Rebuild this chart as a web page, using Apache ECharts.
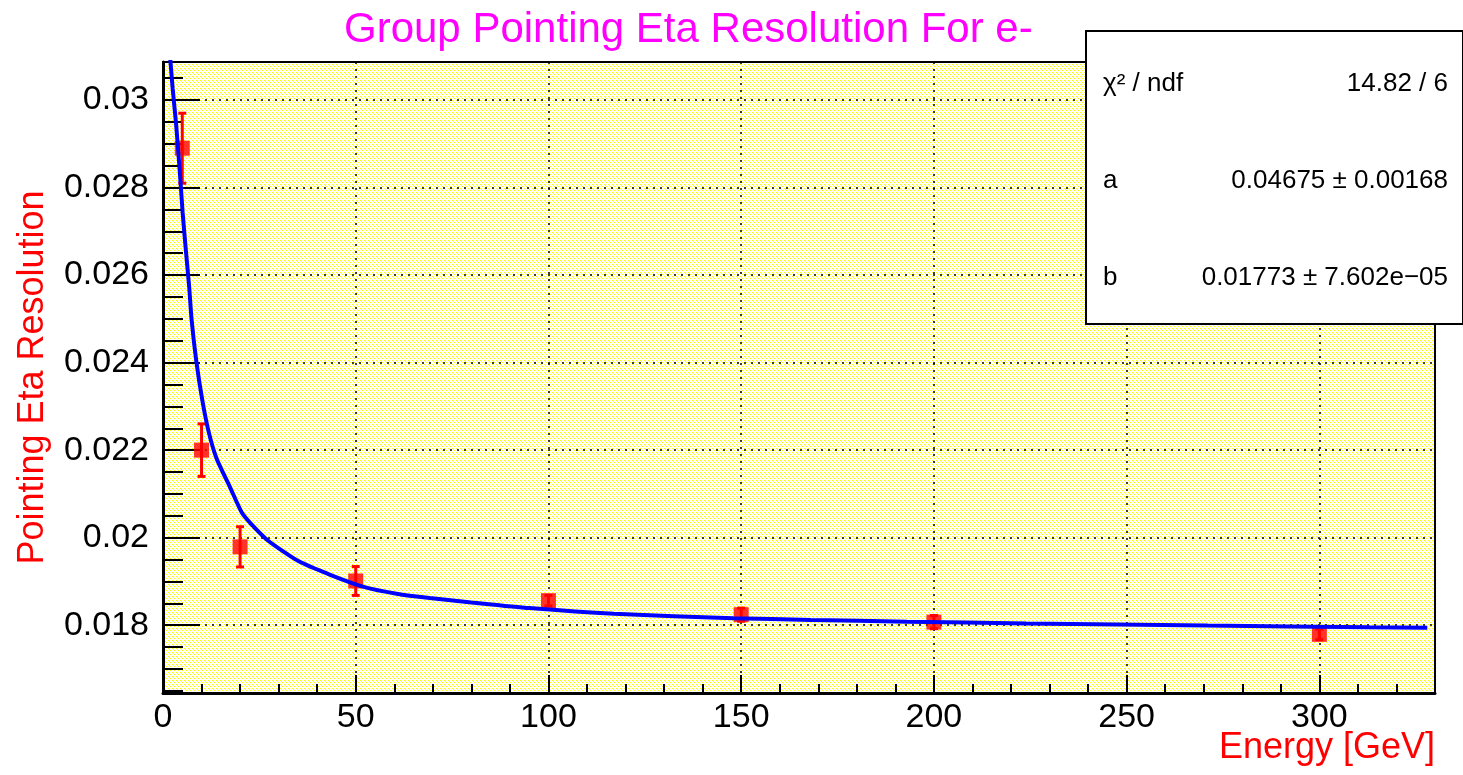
<!DOCTYPE html>
<html><head><meta charset="utf-8">
<script src="https://cdn.jsdelivr.net/npm/echarts@6/dist/echarts.min.js"></script>
<style>html,body{margin:0;padding:0;background:#fff}#c{width:1463px;height:775px}</style>
</head><body><div id="c"></div>
<script>
// ---- data ----
const energies = [5, 10, 20, 50, 100, 150, 200, 300];
const resolution = [0.0289, 0.0220, 0.01979, 0.01901, 0.01856, 0.01824, 0.01807, 0.01779];
const resolutionErr = [0.0008, 0.0006, 0.00046, 0.00033, 0.00012, 0.00015, 0.00015, 0.00012];

const fitEnergy = [1.8, 2.5, 3.4, 4.0, 4.6, 5.1, 6.0, 6.8, 7.4, 8.6, 10.2, 11.9, 13.9, 17.4, 20.4, 22.6, 27.3, 35, 43.7, 52.3, 60.6, 69.2, 80, 95, 117, 148, 168, 193, 224, 271, 313, 328];
const fitValue = [0.03103, 0.03027, 0.02945, 0.02878, 0.02806, 0.02742, 0.02650, 0.02572, 0.02500, 0.02406, 0.02314, 0.02240, 0.02181, 0.02115, 0.02058, 0.02034, 0.01993, 0.01947, 0.01914, 0.01887, 0.01872, 0.01862, 0.01852, 0.01839, 0.01826, 0.01816, 0.01812, 0.01808, 0.01804, 0.01799, 0.01795, 0.01794];

const xTickValues = [0, 50, 100, 150, 200, 250, 300];
const xTickLabels = ['0', '50', '100', '150', '200', '250', '300'];
const yTickValues = [0.018, 0.020, 0.022, 0.024, 0.026, 0.028, 0.030];
const yTickLabels = ['0.018', '0.02', '0.022', '0.024', '0.026', '0.028', '0.03'];

const titleText = 'Group Pointing Eta Resolution For e-';
const xTitle = 'Energy [GeV]';
const yTitle = 'Pointing Eta Resolution';
const statsNames = ['\u03c7\u00b2 / ndf', 'a', 'b'];
const statsValues = ['14.82 / 6', '0.04675 \u00b1 0.00168', '0.01773 \u00b1 7.602e\u221205'];

// ---- axis ranges ----
const xMin = 0, xMax = 330;
const yMin = 0.01645, yMax = 0.03087;

// minor tick positions
const xMinorTicks = [];
for (let v = 10; v <= 320; v += 10) if (v % 50 !== 0) xMinorTicks.push(v);
const yMinorTicks = [];
for (let k = 33; k <= 61; k++) if (k % 4 !== 0) yMinorTicks.push(k * 0.0005);

// hatched yellow background pattern
const pat = document.createElement('canvas');
pat.width = 8; pat.height = 8;
const pc = pat.getContext('2d');
pc.fillStyle = '#ffffff'; pc.fillRect(0, 0, 8, 8);
pc.fillStyle = '#ffff00';
for (let k = 0; k < 8; k++) {
  for (const off of [0, 4]) {
    if (k % 4 === 3) continue;
    pc.fillRect((k + off) % 8, k, 1, 1);
  }
}

const FONT = '"Liberation Sans", Arial, Helvetica, sans-serif';
const chart = echarts.init(document.getElementById('c'), null, {renderer: 'canvas'});

const grid = {left: 163, right: 28, top: 62, bottom: 82};

chart.setOption({
  animation: false,
  backgroundColor: '#ffffff',
  title: {
    text: titleText, left: 339, top: 4,
    textStyle: {color: '#ff00ff', fontFamily: FONT, fontSize: 42, fontWeight: 'normal'}
  },
  grid: Object.assign({show: true, backgroundColor: {image: pat, repeat: 'repeat'},
    borderColor: '#000', borderWidth: 2, outerBoundsMode: 'none', containLabel: false}, grid),
  xAxis: [{
    type: 'value', min: xMin, max: xMax, position: 'bottom',
    axisLine: {show: true, onZero: false, lineStyle: {color: '#000', width: 3}},
    axisTick: {show: true, inside: true, length: 18, lineStyle: {color: '#000', width: 2}, customValues: xTickValues},
    axisLabel: {customValues: xTickValues, margin: 8, color: '#000', fontFamily: FONT, fontSize: 34,
      formatter: v => { const i = xTickValues.indexOf(v); return i >= 0 ? xTickLabels[i] : ''; }},
    splitLine: {show: true, lineStyle: {color: '#000', width: 1.5, type: [2, 5]}}
  }, {
    type: 'value', min: xMin, max: xMax, position: 'bottom',
    axisLine: {show: false},
    axisTick: {show: true, inside: true, length: 9, lineStyle: {color: '#000', width: 2}, customValues: xMinorTicks},
    axisLabel: {show: false}, splitLine: {show: false}
  }],
  yAxis: [{
    type: 'value', min: yMin, max: yMax, position: 'left',
    axisLine: {show: true, onZero: false, lineStyle: {color: '#000', width: 3}},
    axisTick: {show: true, inside: true, length: 37, lineStyle: {color: '#000', width: 2}, customValues: yTickValues},
    axisLabel: {customValues: yTickValues, margin: 14, color: '#000', fontFamily: FONT, fontSize: 34,
      formatter: v => { let i = yTickValues.findIndex(t => Math.abs(t - v) < 1e-9); return i >= 0 ? yTickLabels[i] : ''; }},
    splitLine: {show: true, lineStyle: {color: '#000', width: 1.5, type: [2, 5]}},
    name: yTitle, nameLocation: 'middle', nameGap: 112, nameRotate: 90,
    nameTextStyle: {color: '#ff0000', fontFamily: FONT, fontSize: 36}
  }, {
    type: 'value', min: yMin, max: yMax, position: 'left',
    axisLine: {show: false},
    axisTick: {show: true, inside: true, length: 20, lineStyle: {color: '#000', width: 2}, customValues: yMinorTicks},
    axisLabel: {show: false}, splitLine: {show: false}
  }],
  series: [{
    type: 'custom', name: 'errors', xAxisIndex: 0, yAxisIndex: 0, z: 3,
    data: energies.map((e, i) => [e, resolution[i], resolutionErr[i]]),
    renderItem: (params, api) => {
      const x = api.value(0), y = api.value(1), e = api.value(2);
      const t = api.coord([x, y + e]), b = api.coord([x, y - e]);
      const hw = 4, st = {stroke: '#ff0000', lineWidth: 3};
      return {type: 'group', children: [
        {type: 'line', shape: {x1: t[0], y1: t[1], x2: b[0], y2: b[1]}, style: st},
        {type: 'line', shape: {x1: t[0] - hw, y1: t[1], x2: t[0] + hw, y2: t[1]}, style: st},
        {type: 'line', shape: {x1: b[0] - hw, y1: b[1], x2: b[0] + hw, y2: b[1]}, style: st}
      ]};
    }
  }, {
    type: 'scatter', name: 'data', xAxisIndex: 0, yAxisIndex: 0, z: 4,
    symbol: 'rect', symbolSize: 15, itemStyle: {color: '#ff0000'},
    data: energies.map((e, i) => [e, resolution[i]])
  }, {
    type: 'line', name: 'fit', xAxisIndex: 0, yAxisIndex: 0, z: 5,
    showSymbol: false, symbol: 'none', clip: true, smooth: 0.2,
    lineStyle: {color: '#0000ff', width: 4},
    data: fitEnergy.map((e, i) => [e, fitValue[i]])
  }],
  graphic: [
    {type: 'text', right: 28, top: 730, z: 50,
      style: {text: xTitle, fill: '#ff0000', font: '36px ' + FONT}},
    {type: 'group', left: 1085, top: 30, zlevel: 2, z: 100,
    children: [
      {type: 'rect', z: 100, shape: {x: 0, y: 0, width: 377, height: 293}, style: {fill: '#fff', stroke: '#000', lineWidth: 2}},
      ...statsNames.map((n, i) => ({type: 'text', z: 101, x: 17, y: 53 + i * 97,
        style: {text: n, fill: '#000', font: '26px ' + FONT, textVerticalAlign: 'middle', textAlign: 'left'}})),
      ...statsValues.map((n, i) => ({type: 'text', z: 101, x: 362, y: 53 + i * 97,
        style: {text: n, fill: '#000', font: '26px ' + FONT, textVerticalAlign: 'middle', textAlign: 'right'}}))
    ]
  }]
});
</script></body></html>
